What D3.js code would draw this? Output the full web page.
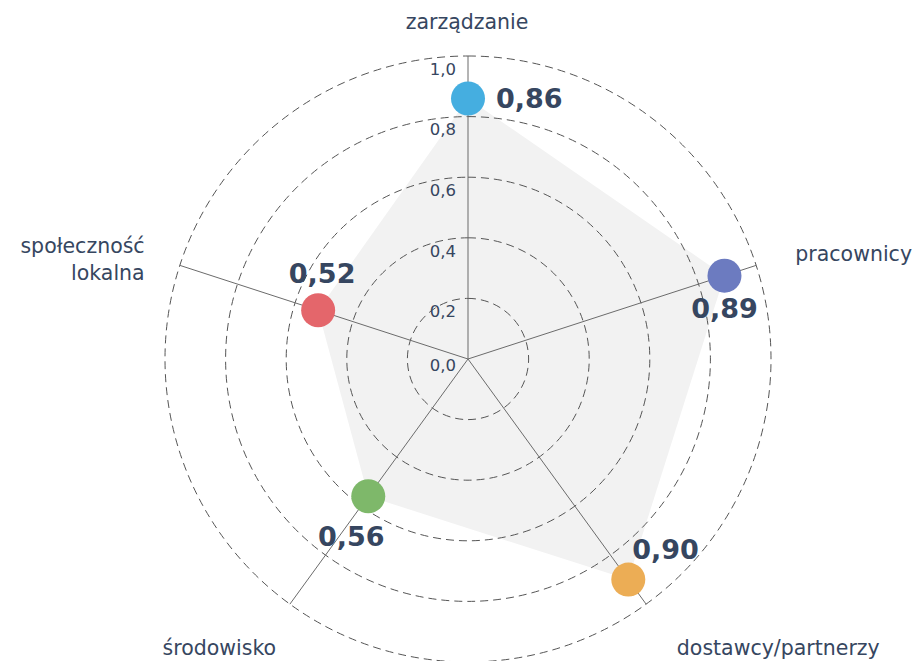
<!DOCTYPE html>
<html>
<head>
<meta charset="utf-8">
<script src="https://cdn.jsdelivr.net/npm/d3@7"></script>
<style>
  body { margin: 0; background: #fff; }
  svg { display: block; }
</style>
</head>
<body>
<div class="container"></div>
<script>
// data
const categories = ['zarządzanie', 'pracownicy', 'dostawcy/partnerzy', 'środowisko', 'społeczność\nlokalna'];
const values = [0.86, 0.89, 0.90, 0.56, 0.52];
const dotColors = ['#45aee0', '#6c7bc0', '#ecad55', '#7eb86a', '#e4666b'];
const tickValues = [0, 0.2, 0.4, 0.6, 0.8, 1.0];

const width = 915, height = 661;
const cx = 468, cy = 359;
const textColor = '#364660';
const fmt = v => d3.format('.2f')(v).replace('.', ',');
const fmtTick = v => d3.format('.1f')(v).replace('.', ',');

const svg = d3.select('.container')
  .append('svg')
  .attr('width', width)
  .attr('height', height);

const r = d3.scaleLinear().domain([0, 1]).range([0, 303]);
const angle = d3.scaleLinear().domain([0, categories.length]).range([0, Math.PI * 2]);

// screen position for index/value
function pos(i, v) {
  const a = angle(i) - Math.PI / 2;
  return [cx + r(v) * Math.cos(a), cy + r(v) * Math.sin(a)];
}

const g = svg.append('g');

// filled area
const area = d3.lineRadial()
  .angle((d, i) => angle(i))
  .radius(d => r(d))
  .curve(d3.curveLinearClosed);

g.append('path')
  .attr('transform', `translate(${cx},${cy})`)
  .attr('d', area(values))
  .attr('fill', '#f2f2f2');

// dashed grid rings (start at top, going clockwise)
tickValues.filter(t => t > 0).forEach(t => {
  const p = d3.path();
  p.moveTo(cx, cy - r(t));
  p.arc(cx, cy, r(t), -Math.PI / 2, Math.PI * 1.5);
  g.append('path')
    .attr('d', p.toString())
    .attr('fill', 'none')
    .attr('stroke', '#555')
    .attr('stroke-width', 1)
    .attr('stroke-dasharray', '8,5');
});

// spokes
categories.forEach((c, i) => {
  const [x, y] = pos(i, 1);
  g.append('line')
    .attr('x1', cx).attr('y1', cy)
    .attr('x2', x).attr('y2', y)
    .attr('stroke', '#6b6b6b')
    .attr('stroke-width', 1);
});

// tick labels
g.selectAll('.tick')
  .data(tickValues)
  .join('text')
  .attr('class', 'tick')
  .attr('x', cx - 12)
  .attr('y', d => cy - r(d) + (d === 0 ? 6 : 13))
  .attr('dy', '0.35em')
  .attr('text-anchor', 'end')
  .attr('font-family', 'DejaVu Sans')
  .attr('font-size', 16.5)
  .attr('fill', textColor)
  .text(fmtTick);

// category labels
const labelLayout = [
  { anchor: 'middle', dx: -1, dy: 3 },
  { anchor: 'start', dx: 4, dy: 0 },
  { anchor: 'start', dx: 9, dy: 14 },
  { anchor: 'end', dx: 8, dy: 14 },
  { anchor: 'end', dx: 0, dy: -8 }
];
categories.forEach((c, i) => {
  const a = angle(i) - Math.PI / 2;
  const x = cx + 340 * Math.cos(a) + labelLayout[i].dx;
  const y = cy + 340 * Math.sin(a) + labelLayout[i].dy;
  const t = g.append('text')
    .attr('x', x).attr('y', y)
    .attr('text-anchor', labelLayout[i].anchor)
    .attr('font-family', 'DejaVu Sans')
    .attr('font-size', 20.5)
    .attr('fill', textColor);
  c.split('\n').forEach((line, k) => {
    t.append('tspan')
      .attr('x', x)
      .attr('dy', k === 0 ? '0.35em' : '1.3em')
      .text(line);
  });
});

// dots
g.selectAll('.dot')
  .data(values)
  .join('circle')
  .attr('class', 'dot')
  .attr('cx', (d, i) => pos(i, d)[0])
  .attr('cy', (d, i) => pos(i, d)[1])
  .attr('r', 17)
  .attr('fill', (d, i) => dotColors[i]);

// value labels
const valueLayout = [
  { anchor: 'start', dx: 28, dy: 0 },
  { anchor: 'middle', dx: 0, dy: 33 },
  { anchor: 'start', dx: 4, dy: -30 },
  { anchor: 'middle', dx: -17, dy: 40 },
  { anchor: 'middle', dx: 4, dy: -37 }
];
g.selectAll('.val')
  .data(values)
  .join('text')
  .attr('class', 'val')
  .attr('x', (d, i) => pos(i, d)[0] + valueLayout[i].dx)
  .attr('y', (d, i) => pos(i, d)[1] + valueLayout[i].dy)
  .attr('dy', '0.35em')
  .attr('text-anchor', (d, i) => valueLayout[i].anchor)
  .attr('font-family', 'DejaVu Sans')
  .attr('font-weight', 'bold')
  .attr('font-size', 27)
  .attr('fill', textColor)
  .text(fmt);
</script>
</body>
</html>
